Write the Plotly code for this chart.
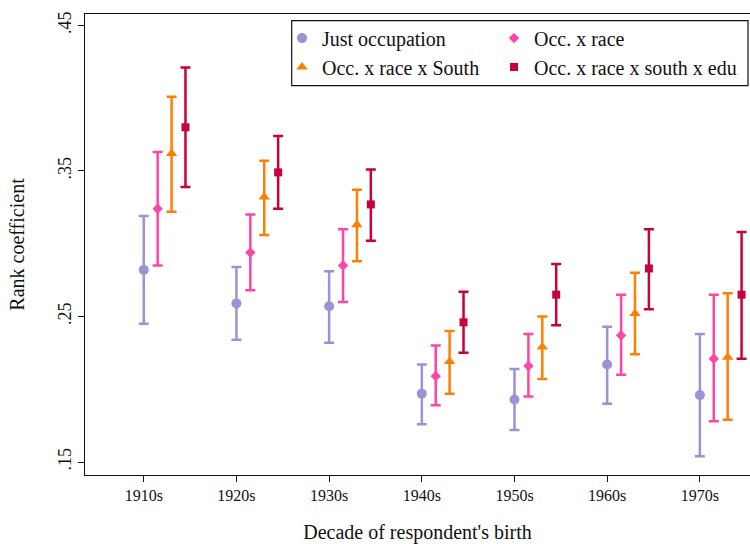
import plotly.graph_objects as go

# Birth-decade cohorts on the x axis
decades = ["1910s", "1920s", "1930s", "1940s", "1950s", "1960s", "1970s"]

# Rank coefficients with 95% confidence bounds, one set per specification
just_occ = [0.282, 0.259, 0.257, 0.197, 0.193, 0.217, 0.196]
just_occ_lo = [0.245, 0.234, 0.232, 0.176, 0.172, 0.190, 0.154]
just_occ_hi = [0.319, 0.284, 0.281, 0.217, 0.214, 0.243, 0.238]

occ_race = [0.324, 0.294, 0.285, 0.209, 0.216, 0.237, 0.221]
occ_race_lo = [0.285, 0.268, 0.260, 0.189, 0.195, 0.210, 0.178]
occ_race_hi = [0.363, 0.320, 0.310, 0.230, 0.238, 0.265, 0.265]

occ_race_south = [0.362, 0.332, 0.313, 0.219, 0.229, 0.252, 0.222]
occ_race_south_lo = [0.322, 0.306, 0.288, 0.197, 0.207, 0.224, 0.179]
occ_race_south_hi = [0.401, 0.357, 0.337, 0.240, 0.250, 0.280, 0.266]

occ_race_south_edu = [0.380, 0.349, 0.327, 0.246, 0.265, 0.283, 0.265]
occ_race_south_edu_lo = [0.339, 0.324, 0.302, 0.225, 0.244, 0.255, 0.221]
occ_race_south_edu_hi = [0.421, 0.374, 0.351, 0.267, 0.286, 0.310, 0.308]

y_ticks = [0.15, 0.25, 0.35, 0.45]
y_tick_labels = [".15", ".25", ".35", ".45"]

# name, values, bounds, colour, symbol, size, x offset, legend column
series = [
    ("Just occupation", just_occ, just_occ_lo, just_occ_hi, "#9b94d4", "circle", 10, 0.0, "legend"),
    ("Occ. x race", occ_race, occ_race_lo, occ_race_hi, "#ff45a5", "diamond", 8, 0.15, "legend2"),
    ("Occ. x race x South", occ_race_south, occ_race_south_lo, occ_race_south_hi, "#ff8000", "triangle-up", 10, 0.30, "legend"),
    ("Occ. x race x south x edu", occ_race_south_edu, occ_race_south_edu_lo, occ_race_south_edu_hi, "#c8003c", "square", 8, 0.45, "legend2"),
]

base_x = list(range(1, len(decades) + 1))

fig = go.Figure()
for name, est, lo, hi, color, symbol, size, offset, leg in series:
    fig.add_trace(go.Scatter(
        x=[b + offset for b in base_x],
        y=est,
        mode="markers",
        name=name,
        legend=leg,
        marker=dict(color=color, symbol=symbol, size=size, line=dict(width=0)),
        error_y=dict(
            type="data",
            symmetric=False,
            array=[h - e for h, e in zip(hi, est)],
            arrayminus=[e - l for e, l in zip(est, lo)],
            color=color,
            thickness=2.5,
            width=5,
        ),
    ))

serif = "Liberation Serif, Times New Roman, serif"

legend_style = dict(
    orientation="v",
    yanchor="top",
    xanchor="left",
    font=dict(family=serif, size=20, color="#111111"),
    bgcolor="rgba(0,0,0,0)",
    borderwidth=0,
    traceorder="normal",
)

fig.update_layout(
    width=750,
    height=544,
    margin=dict(l=85, r=0, t=14, b=69),
    paper_bgcolor="white",
    plot_bgcolor="white",
    font=dict(family=serif, color="#111111"),
    showlegend=True,
    legend=dict(x=(282 - 85) / 665, y=0.99, **legend_style),
    legend2=dict(x=(494 - 85) / 665, y=0.99, **legend_style),
    shapes=[
        dict(
            type="rect",
            xref="paper", yref="paper",
            x0=(291.7 - 85) / 665, x1=(748 - 85) / 665,
            y0=1 - (85.7 - 14) / 461, y1=1 - (20.7 - 14) / 461,
            line=dict(color="#111111", width=1.2),
            fillcolor="white",
            layer="below",
        )
    ],
    xaxis=dict(
        range=[0.366, 7.541],
        automargin=False,
        tickmode="array",
        tickvals=base_x,
        ticktext=decades,
        ticks="outside",
        ticklen=6,
        tickwidth=1.2,
        tickcolor="#111111",
        tickfont=dict(family=serif, size=16, color="#111111"),
        showline=True,
        linecolor="#111111",
        linewidth=1.3,
        mirror=True,
        showgrid=False,
        zeroline=False,
        title=dict(text="Decade of respondent's birth", font=dict(family=serif, size=20), standoff=30),
    ),
    yaxis=dict(
        range=[0.1411, 0.4578],
        automargin=False,
        tickmode="array",
        tickvals=y_ticks,
        ticktext=y_tick_labels,
        tickangle=-90,
        ticks="outside",
        ticklen=6,
        tickwidth=1.2,
        tickcolor="#111111",
        tickfont=dict(family=serif, size=18, color="#111111"),
        showline=True,
        linecolor="#111111",
        linewidth=1.3,
        showgrid=False,
        zeroline=False,
        title=dict(text="Rank coefficient", font=dict(family=serif, size=20), standoff=24),
    ),
)

fig.write_html("out.html")
